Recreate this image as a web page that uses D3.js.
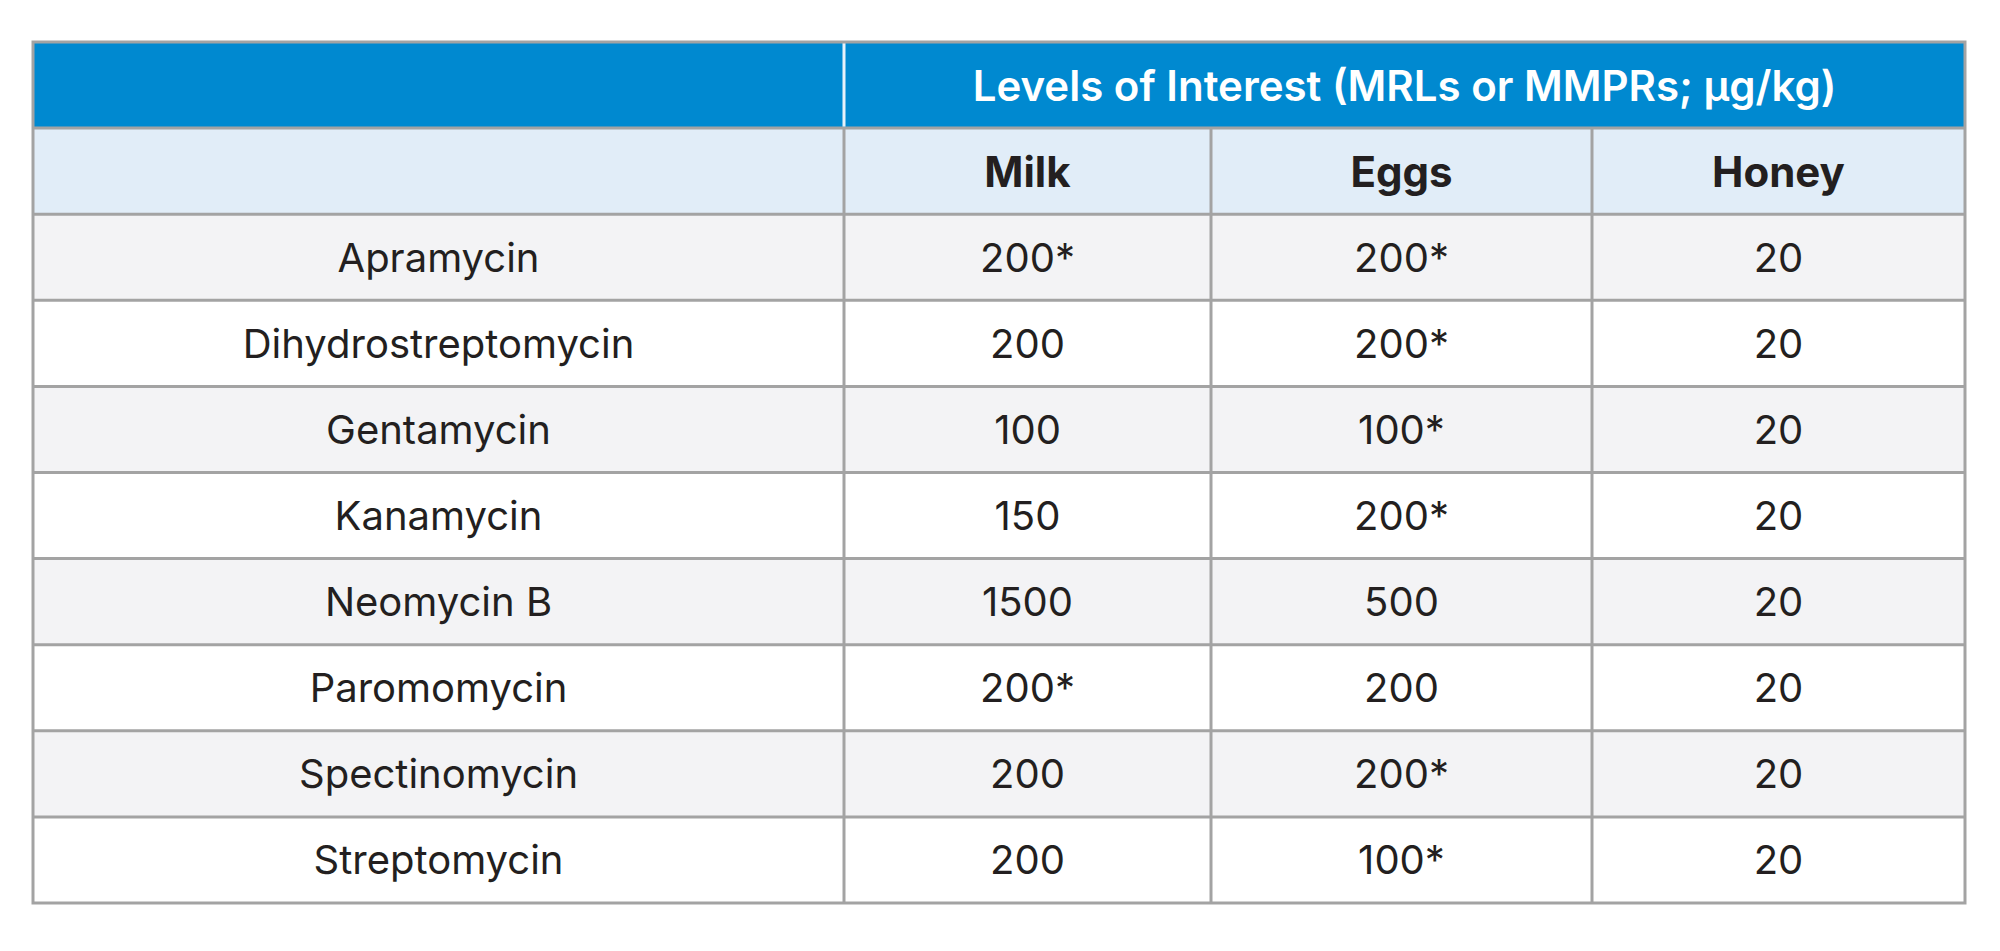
<!DOCTYPE html>
<html><head><meta charset="utf-8">
<script src="https://cdn.jsdelivr.net/npm/d3@7"></script>
<style>body{margin:0;background:#fff}</style></head>
<body><svg id="c" width="2000" height="951"></svg>
<script>
const title = "Levels of Interest (MRLs or MMPRs; µg/kg)";
const columns = ["Milk", "Eggs", "Honey"];
const compounds = ["Apramycin","Dihydrostreptomycin","Gentamycin","Kanamycin","Neomycin B","Paromomycin","Spectinomycin","Streptomycin"];
const milk  = ["200*","200","100","150","1500","200*","200","200"];
const eggs  = ["200*","200*","100*","200*","500","200","200*","100*"];
const honey = ["20","20","20","20","20","20","20","20"];

(function(){
const svg = d3.select("#c");
const font = "Inter, 'Open Sans', sans-serif";
const xEdges = [33, 844, 1211, 1592, 1965];
const tableTop = 42, tableBottom = 903, nRows = compounds.length + 2;
const y = d3.scaleBand().domain(d3.range(nRows)).range([tableTop, tableBottom]);
const line = "#a3a3a3";
const W = xEdges[4]-xEdges[0];

svg.append("rect").attr("x",xEdges[0]).attr("y",y(0)).attr("width",W).attr("height",y.bandwidth()).attr("fill","#0089d0");
svg.append("rect").attr("x",xEdges[0]).attr("y",y(1)).attr("width",W).attr("height",y.bandwidth()).attr("fill","#e1edf8");
compounds.forEach((c,i)=>{
  svg.append("rect").attr("x",xEdges[0]).attr("y",y(i+2)).attr("width",W).attr("height",y.bandwidth())
    .attr("fill", i%2===0 ? "#f3f3f5" : "#ffffff");
});
for(let r=1;r<nRows;r++){
  svg.append("line").attr("x1",xEdges[0]).attr("x2",xEdges[4]).attr("y1",y(r)).attr("y2",y(r)).attr("stroke",line).attr("stroke-width",3);
}
svg.append("line").attr("x1",xEdges[1]).attr("x2",xEdges[1]).attr("y1",y(1)).attr("y2",tableBottom).attr("stroke",line).attr("stroke-width",3);
svg.append("line").attr("x1",xEdges[1]).attr("x2",xEdges[1]).attr("y1",tableTop).attr("y2",y(1)-1.5).attr("stroke","#e8f2fa").attr("stroke-width",3);
[2,3].forEach(k=>svg.append("line").attr("x1",xEdges[k]).attr("x2",xEdges[k]).attr("y1",y(1)).attr("y2",tableBottom).attr("stroke",line).attr("stroke-width",3));
svg.append("rect").attr("x",xEdges[0]).attr("y",tableTop).attr("width",W).attr("height",tableBottom-tableTop)
  .attr("fill","none").attr("stroke",line).attr("stroke-width",3);

const cy = r => y(r) + y.bandwidth()/2;
const cx = k => (xEdges[k]+xEdges[k+1])/2;
function txt(x, yy, s, opts={}){
  svg.append("text").attr("x",x).attr("y",yy).attr("text-anchor","middle").attr("dominant-baseline","central")
    .attr("font-family",font).attr("font-size",opts.size||40).attr("font-weight",opts.weight||400)
    .attr("fill",opts.fill||"#231f20").text(s);
}
txt((xEdges[1]+xEdges[4])/2, cy(0), title, {weight:600, fill:"#fff", size:42});
columns.forEach((c,k)=>txt(cx(k+1), cy(1), c, {weight:700, size:42}));
compounds.forEach((c,i)=>{
  txt(cx(0), cy(i+2), c);
  txt(cx(1), cy(i+2), milk[i]);
  txt(cx(2), cy(i+2), eggs[i]);
  txt(cx(3), cy(i+2), honey[i]);
});
})();
</script></body></html>
